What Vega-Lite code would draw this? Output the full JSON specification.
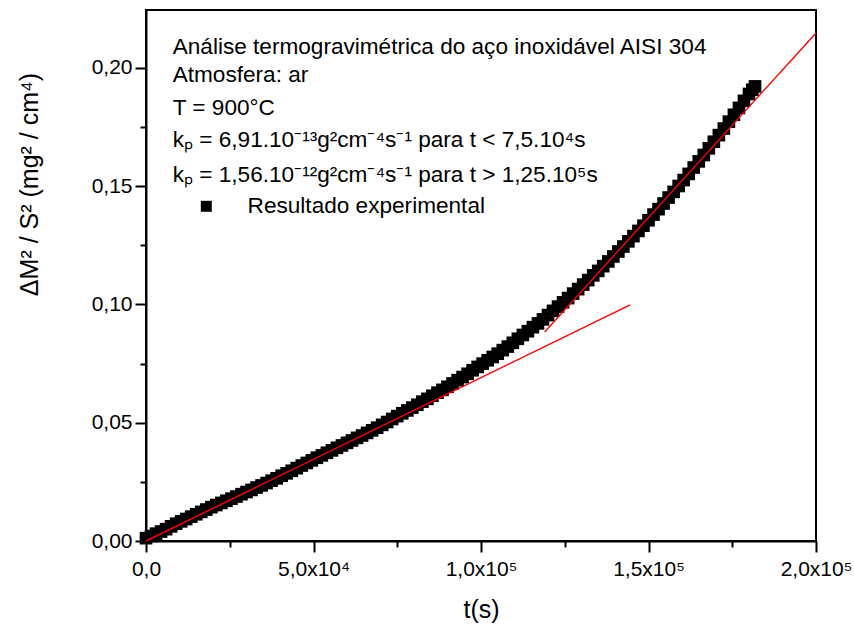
{
  "$schema": "https://vega.github.io/schema/vega-lite/v6.json",
  "width": 670,
  "height": 531,
  "autosize": {"type": "none"},
  "padding": {"left": 146, "top": 10, "right": 38, "bottom": 87},
  "background": "white",
  "config": {
    "font": "Liberation Sans",
    "view": {"stroke": "black", "strokeWidth": 2},
    "axis": {
      "grid": false,
      "domainColor": "black",
      "domainWidth": 2,
      "tickColor": "black",
      "tickWidth": 2,
      "tickSize": 11,
      "labelColor": "black",
      "labelFont": "Liberation Sans",
      "labelFontSize": 21,
      "titleColor": "black",
      "titleFont": "Liberation Sans",
      "titleFontSize": 25,
      "titleFontWeight": "normal"
    },
    "legend": {
      "orient": "none",
      "legendX": 49,
      "legendY": 185,
      "labelFont": "Liberation Sans",
      "labelFontSize": 22.6,
      "labelColor": "black",
      "labelOffset": 30,
      "labelLimit": 0,
      "symbolSize": 120,
      "symbolFillColor": "black",
      "symbolStrokeColor": "black",
      "symbolStrokeWidth": 0,
      "padding": 0
    }
  },
  "datasets": {
    "exp": [
      {"t": 0, "v": 0.0012}, {"t": 1500, "v": 0.0021}, {"t": 3000, "v": 0.0031}, {"t": 4500, "v": 0.0040},
      {"t": 6000, "v": 0.0050}, {"t": 7500, "v": 0.0062}, {"t": 9000, "v": 0.0073}, {"t": 10500, "v": 0.0083},
      {"t": 12000, "v": 0.0093}, {"t": 13500, "v": 0.0103}, {"t": 15000, "v": 0.0113}, {"t": 16500, "v": 0.0123},
      {"t": 18000, "v": 0.0133}, {"t": 19500, "v": 0.0143}, {"t": 21000, "v": 0.0152}, {"t": 22500, "v": 0.0161},
      {"t": 24000, "v": 0.0170}, {"t": 25500, "v": 0.0179}, {"t": 27000, "v": 0.0188}, {"t": 28500, "v": 0.0198},
      {"t": 30000, "v": 0.0207}, {"t": 31500, "v": 0.0216}, {"t": 33000, "v": 0.0226}, {"t": 34500, "v": 0.0235},
      {"t": 36000, "v": 0.0245}, {"t": 37500, "v": 0.0255}, {"t": 39000, "v": 0.0265}, {"t": 40500, "v": 0.0276},
      {"t": 42000, "v": 0.0286}, {"t": 43500, "v": 0.0297}, {"t": 45000, "v": 0.0308}, {"t": 46500, "v": 0.0319},
      {"t": 48000, "v": 0.0330}, {"t": 49500, "v": 0.0341}, {"t": 51000, "v": 0.0352}, {"t": 52500, "v": 0.0362},
      {"t": 54000, "v": 0.0373}, {"t": 55500, "v": 0.0383}, {"t": 57000, "v": 0.0394}, {"t": 58500, "v": 0.0404},
      {"t": 60000, "v": 0.0415}, {"t": 61500, "v": 0.0425}, {"t": 63000, "v": 0.0436}, {"t": 64500, "v": 0.0446},
      {"t": 66000, "v": 0.0457}, {"t": 67500, "v": 0.0468}, {"t": 69000, "v": 0.0479}, {"t": 70500, "v": 0.0491},
      {"t": 72000, "v": 0.0503}, {"t": 73500, "v": 0.0516}, {"t": 75000, "v": 0.0528}, {"t": 76500, "v": 0.0540},
      {"t": 78000, "v": 0.0552}, {"t": 79500, "v": 0.0564}, {"t": 81000, "v": 0.0576}, {"t": 82500, "v": 0.0589},
      {"t": 84000, "v": 0.0601}, {"t": 85500, "v": 0.0614}, {"t": 87000, "v": 0.0627}, {"t": 88500, "v": 0.0639},
      {"t": 90000, "v": 0.0652}, {"t": 91500, "v": 0.0666}, {"t": 93000, "v": 0.0680}, {"t": 94500, "v": 0.0693},
      {"t": 96000, "v": 0.0707}, {"t": 97500, "v": 0.0722}, {"t": 99000, "v": 0.0736}, {"t": 100500, "v": 0.0750},
      {"t": 102000, "v": 0.0764}, {"t": 103500, "v": 0.0778}, {"t": 105000, "v": 0.0792}, {"t": 106500, "v": 0.0807},
      {"t": 108000, "v": 0.0822}, {"t": 109500, "v": 0.0838}, {"t": 111000, "v": 0.0855}, {"t": 112500, "v": 0.0871},
      {"t": 114000, "v": 0.0887}, {"t": 115500, "v": 0.0904}, {"t": 117000, "v": 0.0920}, {"t": 118500, "v": 0.0937},
      {"t": 120000, "v": 0.0955}, {"t": 121500, "v": 0.0973}, {"t": 123000, "v": 0.0991}, {"t": 124500, "v": 0.1009},
      {"t": 126000, "v": 0.1027}, {"t": 127500, "v": 0.1046}, {"t": 129000, "v": 0.1065}, {"t": 130500, "v": 0.1084},
      {"t": 132000, "v": 0.1103}, {"t": 133500, "v": 0.1123}, {"t": 135000, "v": 0.1142}, {"t": 136500, "v": 0.1162},
      {"t": 138000, "v": 0.1182}, {"t": 139500, "v": 0.1203}, {"t": 141000, "v": 0.1224}, {"t": 142500, "v": 0.1245},
      {"t": 144000, "v": 0.1267}, {"t": 145500, "v": 0.1289}, {"t": 147000, "v": 0.1311}, {"t": 148500, "v": 0.1333},
      {"t": 150000, "v": 0.1356}, {"t": 151500, "v": 0.1380}, {"t": 153000, "v": 0.1403}, {"t": 154500, "v": 0.1427},
      {"t": 156000, "v": 0.1452}, {"t": 157500, "v": 0.1476}, {"t": 159000, "v": 0.1501}, {"t": 160500, "v": 0.1526},
      {"t": 162000, "v": 0.1552}, {"t": 163500, "v": 0.1579}, {"t": 165000, "v": 0.1605}, {"t": 166500, "v": 0.1632},
      {"t": 168000, "v": 0.1660}, {"t": 169500, "v": 0.1688}, {"t": 171000, "v": 0.1716}, {"t": 172500, "v": 0.1744},
      {"t": 174000, "v": 0.1773}, {"t": 175500, "v": 0.1802}, {"t": 177000, "v": 0.1831}, {"t": 178500, "v": 0.1861},
      {"t": 180000, "v": 0.1890}, {"t": 181000, "v": 0.1908}, {"t": 181800, "v": 0.1922}
    ],
    "fits": [
      {"seg": "t < 7,5.10⁴ s", "t": 0, "v": 0.0},
      {"seg": "t < 7,5.10⁴ s", "t": 144500, "v": 0.0998},
      {"seg": "t > 1,25.10⁵ s", "t": 119000, "v": 0.0884},
      {"seg": "t > 1,25.10⁵ s", "t": 200000, "v": 0.2148}
    ],
    "notes": [
      {"t": 7970, "v": 0.2060, "label": "Análise termogravimétrica do aço inoxidável AISI 304"},
      {"t": 7970, "v": 0.1940, "label": "Atmosfera: ar"},
      {"t": 7970, "v": 0.1799, "label": "T = 900°C"},
      {"t": 7970, "v": 0.1665, "label": "kₚ = 6,91.10⁻¹³g²cm⁻⁴s⁻¹ para t < 7,5.10⁴s"},
      {"t": 7970, "v": 0.1517, "label": "kₚ = 1,56.10⁻¹²g²cm⁻⁴s⁻¹ para t > 1,25.10⁵s"}
    ]
  },
  "resolve": {"axis": {"x": "independent", "y": "independent"}},
  "layer": [
    {
      "data": {"name": "exp"},
      "mark": {"type": "point", "shape": "square", "filled": true, "color": "black", "size": 160, "opacity": 1, "strokeWidth": 0},
      "encoding": {
        "x": {
          "field": "t", "type": "quantitative",
          "scale": {"domain": [0, 200000], "nice": false, "zero": false},
          "axis": {
            "orient": "bottom",
            "values": [0, 50000, 100000, 150000, 200000],
            "labelExpr": "datum.value == 0 ? '0,0' : datum.value == 50000 ? '5,0x10⁴' : datum.value == 100000 ? '1,0x10⁵' : datum.value == 150000 ? '1,5x10⁵' : '2,0x10⁵'",
            "labelPadding": 6,
            "labelFlush": false,
            "labelOverlap": false,
            "title": "t(s)",
            "titleX": 335,
            "titleY": 76,
            "titleBaseline": "alphabetic"
          }
        },
        "y": {
          "field": "v", "type": "quantitative",
          "scale": {"domain": [0, 0.2245], "nice": false, "zero": false},
          "axis": {
            "orient": "left",
            "values": [0, 0.05, 0.1, 0.15, 0.2],
            "labelExpr": "replace(format(datum.value, '.2f'), '.', ',')",
            "labelPadding": 3,
            "labelFlush": false,
            "labelOverlap": false,
            "title": "ΔM² / S² (mg² / cm⁴)",
            "titleX": -109,
            "titleY": 174,
            "titleAngle": -90,
            "titleAlign": "center",
            "titleBaseline": "alphabetic"
          }
        },
        "shape": {
          "datum": "Resultado experimental",
          "type": "nominal",
          "scale": {"range": ["square"]},
          "legend": {"title": null}
        }
      }
    },
    {
      "data": {"name": "fits"},
      "mark": {"type": "line", "color": "#ff0000", "strokeWidth": 1.4},
      "encoding": {
        "x": {
          "field": "t", "type": "quantitative",
          "axis": {
            "orient": "bottom",
            "values": [25000, 75000, 125000, 175000],
            "tickSize": 6,
            "labels": false,
            "domain": false,
            "title": null
          }
        },
        "y": {
          "field": "v", "type": "quantitative",
          "axis": {
            "orient": "left",
            "values": [0.025, 0.075, 0.125, 0.175],
            "tickSize": 6,
            "labels": false,
            "domain": false,
            "title": null
          }
        },
        "detail": {"field": "seg", "type": "nominal"}
      }
    },
    {
      "data": {"name": "notes"},
      "mark": {"type": "text", "align": "left", "baseline": "alphabetic", "font": "Liberation Sans", "fontSize": 22.6, "color": "black"},
      "encoding": {
        "x": {"field": "t", "type": "quantitative", "axis": null},
        "y": {"field": "v", "type": "quantitative", "axis": null},
        "text": {"field": "label", "type": "nominal"}
      }
    }
  ]
}
